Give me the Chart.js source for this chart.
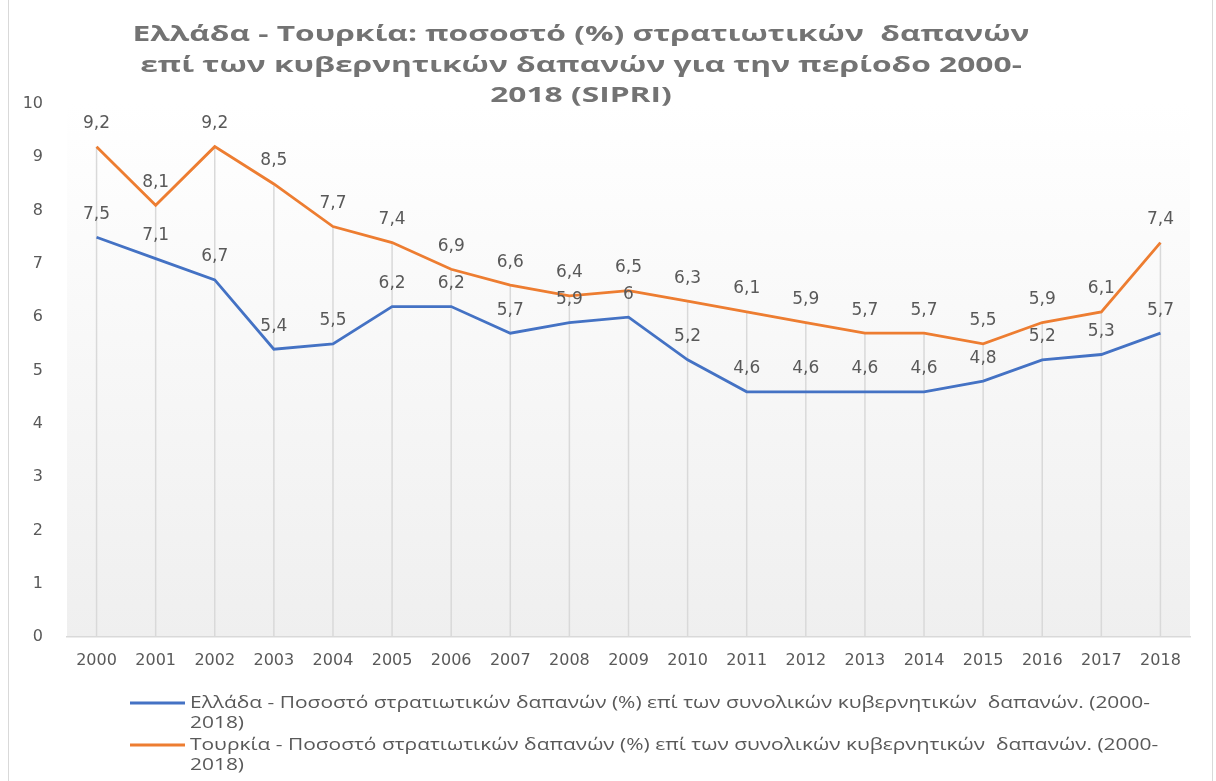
<!DOCTYPE html>
<html>
<head>
<meta charset="utf-8">
<script src="https://cdn.jsdelivr.net/npm/chart.js@4"></script>
<style>
  html, body { margin: 0; padding: 0; background: #fff; }
  #wrap { position: relative; width: 1216px; height: 781px; }
</style>
</head>
<body>
<div id="wrap"><canvas id="spendChart" width="1216" height="781"></canvas></div>
<script>
const years = ['2000', '2001', '2002', '2003', '2004', '2005', '2006', '2007', '2008', '2009',
               '2010', '2011', '2012', '2013', '2014', '2015', '2016', '2017', '2018'];
const greece = [7.5, 7.1, 6.7, 5.4, 5.5, 6.2, 6.2, 5.7, 5.9, 6, 5.2, 4.6, 4.6, 4.6, 4.6, 4.8, 5.2, 5.3, 5.7];
const turkey = [9.2, 8.1, 9.2, 8.5, 7.7, 7.4, 6.9, 6.6, 6.4, 6.5, 6.3, 6.1, 5.9, 5.7, 5.7, 5.5, 5.9, 6.1, 7.4];
const yTicks = [0, 1, 2, 3, 4, 5, 6, 7, 8, 9, 10];

const titleLines = [
    'Ελλάδα - Τουρκία: ποσοστό (%) στρατιωτικών  δαπανών',
    'επί των κυβερνητικών δαπανών για την περίοδο 2000-',
    '2018 (SIPRI)'
];
const legendGreece = ['Ελλάδα - Ποσοστό στρατιωτικών δαπανών (%) επί των συνολικών κυβερνητικών  δαπανών. (2000-', '2018)'];
const legendTurkey = ['Τουρκία - Ποσοστό στρατιωτικών δαπανών (%) επί των συνολικών κυβερνητικών  δαπανών. (2000-', '2018)'];

const blue = '#4472C4';
const orange = '#ED7D31';
const textGray = '#595959';

// draws text squeezed/stretched horizontally by sx
function drawScaled(ctx, text, x, y, sx, align) {
    ctx.save();
    ctx.translate(x, y);
    ctx.scale(sx, 1);
    ctx.textAlign = align;
    ctx.fillText(text, 0, 0);
    ctx.restore();
}

const frameAndBackground = {
    id: 'frameAndBackground',
    beforeDraw(chart) {
        const { ctx, chartArea } = chart;
        ctx.save();
        ctx.strokeStyle = '#d9d9d9';
        ctx.lineWidth = 1;
        ctx.strokeRect(8.5, -2, 1204, 790);
        const grad = ctx.createLinearGradient(0, chartArea.top, 0, chartArea.bottom);
        grad.addColorStop(0, '#ffffff');
        grad.addColorStop(1, '#efefef');
        ctx.fillStyle = grad;
        ctx.fillRect(chartArea.left, chartArea.top, chartArea.right - chartArea.left, chartArea.bottom - chartArea.top);
        ctx.restore();
    }
};

const dropLines = {
    id: 'dropLines',
    beforeDatasetsDraw(chart) {
        const { ctx } = chart;
        const xScale = chart.scales.x;
        const yScale = chart.scales.y;
        ctx.save();
        ctx.strokeStyle = '#d9d9d9';
        ctx.lineWidth = 1.5;
        years.forEach((yr, i) => {
            const top = Math.max(greece[i], turkey[i]);
            const x = xScale.getPixelForValue(i);
            ctx.beginPath();
            ctx.moveTo(x, yScale.getPixelForValue(top));
            ctx.lineTo(x, yScale.getPixelForValue(0));
            ctx.stroke();
        });
        ctx.restore();
    }
};

const valueLabels = {
    id: 'valueLabels',
    afterDatasetsDraw(chart) {
        const { ctx } = chart;
        ctx.save();
        ctx.font = '17px "DejaVu Sans"';
        ctx.fillStyle = textGray;
        ctx.textAlign = 'center';
        ctx.textBaseline = 'middle';
        chart.data.datasets.forEach((ds, di) => {
            chart.getDatasetMeta(di).data.forEach((pt, i) => {
                const txt = String(ds.data[i]).replace('.', ',');
                ctx.fillText(txt, pt.x, pt.y - 23);
            });
        });
        ctx.restore();
    }
};

const titleAndLegend = {
    id: 'titleAndLegend',
    afterDraw(chart) {
        const { ctx } = chart;
        ctx.save();
        ctx.fillStyle = '#737373';
        ctx.textBaseline = 'middle';
        ctx.font = 'bold 21px "Open Sans"';
        const tsx = 897 / ctx.measureText(titleLines[0]).width;
        const tY = [35, 66, 96];
        titleLines.forEach((line, i) => drawScaled(ctx, line, 581, tY[i], tsx, 'center'));

        ctx.fillStyle = textGray;
        ctx.font = '16px "Open Sans"';
        const lsx = 960 / ctx.measureText(legendGreece[0]).width;
        const entries = [
            { color: blue, lines: legendGreece, y: 703 },
            { color: orange, lines: legendTurkey, y: 745 }
        ];
        entries.forEach(e => {
            ctx.strokeStyle = e.color;
            ctx.lineWidth = 3;
            ctx.beginPath();
            ctx.moveTo(130, e.y);
            ctx.lineTo(185, e.y);
            ctx.stroke();
            e.lines.forEach((line, j) => drawScaled(ctx, line, 190, e.y + j * 20, lsx, 'left'));
        });
        ctx.restore();
    }
};

const ctx = document.getElementById('spendChart').getContext('2d');
new Chart(ctx, {
    type: 'line',
    data: {
        labels: years,
        datasets: [
            {
                label: 'Ελλάδα',
                data: greece,
                borderColor: blue,
                backgroundColor: blue,
                borderWidth: 2.8,
                pointRadius: 0,
                tension: 0
            },
            {
                label: 'Τουρκία',
                data: turkey,
                borderColor: orange,
                backgroundColor: orange,
                borderWidth: 2.8,
                pointRadius: 0,
                tension: 0
            }
        ]
    },
    options: {
        responsive: false,
        animation: false,
        layout: {
            padding: { left: 0, right: 26, top: 104, bottom: 104 }
        },
        scales: {
            x: {
                type: 'category',
                offset: true,
                grid: { color: 'transparent', drawTicks: false },
                border: { display: true, color: '#d9d9d9', width: 1.5 },
                ticks: {
                    color: textGray,
                    font: { family: 'DejaVu Sans', size: 16 },
                    padding: 14,
                    maxRotation: 0,
                    autoSkip: false
                },
                afterFit(scale) { scale.height = 40; }
            },
            y: {
                min: 0,
                max: 10,
                afterBuildTicks(scale) { scale.ticks = yTicks.map(v => ({ value: v })); },
                grid: { display: false },
                border: { display: false },
                ticks: {
                    color: textGray,
                    font: { family: 'DejaVu Sans', size: 16 },
                    padding: 16
                },
                afterFit(scale) { scale.width = 67; }
            }
        },
        plugins: {
            legend: { display: false },
            title: { display: false },
            tooltip: { enabled: false }
        }
    },
    plugins: [frameAndBackground, dropLines, valueLabels, titleAndLegend]
});
</script>
</body>
</html>
